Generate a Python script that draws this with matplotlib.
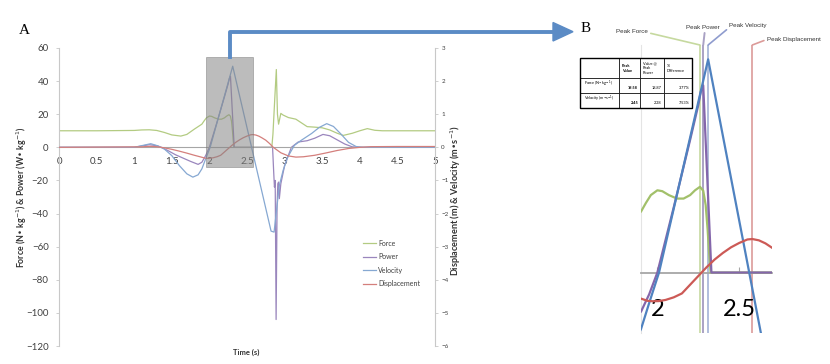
import numpy as np
import matplotlib
matplotlib.use('Agg')
import matplotlib.pyplot as plt
from matplotlib.lines import Line2D
from matplotlib.patches import Rectangle, Polygon

plt.rcParams['font.family'] = ['Lato', 'DejaVu Sans']

# ---- data ----
# force, N/kg
t_force = [0, 0.5, 1.0, 1.1, 1.2, 1.3, 1.4, 1.5, 1.62, 1.7,
           1.8, 1.9, 1.93, 1.96, 2.0, 2.03, 2.07, 2.12, 2.16, 2.2,
           2.23, 2.26, 2.28, 2.295, 2.307, 2.315, 2.325, 2.6, 2.83, 2.845,
           2.87, 2.89, 2.905, 2.92, 2.95, 2.98, 3.05, 3.15, 3.25, 3.3,
           3.4, 3.5, 3.6, 3.7, 3.78, 3.9, 4.0, 4.1, 4.2, 4.3, 5.0]
force = [10, 10, 10.2, 10.5, 10.6, 10.2, 9.0, 7.5, 6.8, 7.8,
         11.0, 14.0, 16.0, 17.8, 18.9, 18.7, 17.8, 17.0, 17.0, 17.8,
         18.9, 19.7, 18.8, 15.5, 9.8, 5.0, 0, 0, 0, 8,
         30, 47, 20, 14, 20.5, 19.5, 18, 17, 14, 12.5,
         12.2, 11.8, 10.5, 8.5, 7.2, 8.5, 10, 11.3, 10.3, 10, 10]

# power, W/kg
t_power = [0, 1.0, 1.1, 1.2, 1.3, 1.36, 1.45, 1.55, 1.65, 1.75,
           1.85, 1.9, 1.95, 2.0, 2.1, 2.2, 2.25, 2.265, 2.28, 2.33,
           2.84, 2.855, 2.865, 2.875, 2.887, 2.9, 2.91, 2.92, 2.93, 2.95,
           3.0, 3.09, 3.18, 3.3, 3.4, 3.51, 3.6, 3.7, 3.8, 3.9,
           4.0, 5.0]
power = [0, 0, 0.8, 1.6, 1.0, 0, -2, -4.5, -6.5, -8.5,
         -10.3, -9, -5, 0, 15, 30.5, 38.5, 41.5, 43, 0,
         0, -15, -24, -20, -104, -35, -22, -21, -31, -22,
         -11, 0, 3.2, 4, 5.5, 7.8, 7, 4.5, 2, 0.3,
         0, 0]

# velocity, m/s
t_vel = [0, 1.0, 1.1, 1.22, 1.32, 1.4, 1.5, 1.6, 1.7, 1.78,
         1.85, 1.9, 1.95, 2.01, 2.31, 2.82, 2.86, 2.90, 2.93, 2.98,
         3.04, 3.13, 3.22, 3.36, 3.46, 3.56, 3.65, 3.75, 3.85, 3.95,
         4.05, 5.0]
vel = [0, 0, 0.05, 0.11, 0.04, -0.05, -0.25, -0.55, -0.8, -0.9,
       -0.83, -0.65, -0.35, 0, 2.45, -2.53, -2.56, -1.75, -1.15, -0.7,
       -0.3, 0.06, 0.21, 0.42, 0.6, 0.715, 0.63, 0.4, 0.15, 0.025,
       0, 0]

# displacement, m
t_disp = [0, 1.1, 1.2, 1.3, 1.4, 1.5, 1.6, 1.7, 1.8, 1.9,
          1.94, 1.97, 2.01, 2.05, 2.1, 2.15, 2.2, 2.25, 2.3, 2.35,
          2.4, 2.45, 2.5, 2.55, 2.58, 2.62, 2.66, 2.7, 2.75, 2.8,
          2.85, 2.95, 3.05, 3.15, 3.25, 3.4, 3.55, 3.7, 3.85, 4.0,
          4.15, 4.5, 5.0]
disp = [0, 0.015, 0.03, 0.02, -0.015, -0.06, -0.115, -0.175, -0.24, -0.3,
        -0.325, -0.33, -0.328, -0.315, -0.285, -0.24, -0.14, -0.04, 0.06, 0.15,
        0.225, 0.29, 0.34, 0.38, 0.385, 0.37, 0.335, 0.285, 0.215, 0.115,
        0, -0.165, -0.26, -0.295, -0.285, -0.24, -0.17, -0.095, -0.035, 0,
        0.02, 0.025, 0.025]

series_names = ['Force', 'Power', 'Velocity', 'Displacement']

table_header = ['', 'Peak\nValue', 'Value @\nPeak\nPower', '%\nDifference']
table_rows = ['Force (N\u2022 kg$^{-1}$)', 'Velocity (m\u2022s$^{-1}$)']
table_peak = ['19.58', '2.45']
table_at_power = ['18.87', '2.28']
table_diff = ['3.77%', '7.53%']

# ---- layout helpers (image pixels, y down) ----
W, H = 830.0, 364.0
def fx(px):
    return px / W
def fy(py):
    return 1 - py / H

right_scale = 20.0          # left-axis units per right-axis unit
zoom_t = (1.96, 2.58)       # shaded window in panel A
zoom_y = (-12, 54.6)
b_xlim = (1.9, 2.70)
b_ylim = (-13.9, 52.3)

ca = {'Force': '#b3cb82', 'Power': '#9a86bd', 'Velocity': '#86a8d2', 'Displacement': '#d47f7c'}
cb = {'Force': '#a2c06a', 'Power': '#8466ab', 'Velocity': '#4f82c0', 'Displacement': '#cc5a56'}
grey_txt = '#404040'
spine_c = '#c8c8c8'

fig = plt.figure(figsize=(8.3, 3.64), dpi=100)

# ================= panel A =================
axA = fig.add_axes([fx(59), fy(346), fx(435) - fx(59), fy(48) - fy(346)])
axA2 = axA.twinx()

lf, = axA.plot(t_force, force, color=ca['Force'], lw=0.9)
lp, = axA.plot(t_power, power, color=ca['Power'], lw=0.9)
lv, = axA2.plot(t_vel, vel, color=ca['Velocity'], lw=0.9)
ld, = axA2.plot(t_disp, disp, color=ca['Displacement'], lw=0.9)

axA.set_xlim(0, 5)
axA.set_ylim(-120, 60)
axA.set_yticks(np.arange(-120, 61, 20))
axA.set_xticks(np.arange(0, 5.01, 0.5))
axA.xaxis.set_major_formatter(matplotlib.ticker.FormatStrFormatter('%g'))
axA.spines['top'].set_visible(False)
axA.spines['right'].set_visible(False)
axA.spines['bottom'].set_position(('data', 0))
axA.spines['bottom'].set_color('#a6a6a6')
axA.spines['bottom'].set_linewidth(0.8)
axA.spines['left'].set_color(spine_c)
axA.tick_params(axis='y', labelsize=7, labelcolor=grey_txt, color=spine_c, length=2.5, width=0.6, pad=5)
axA.tick_params(axis='x', labelsize=7, labelcolor=grey_txt, length=0, pad=7)

axA2.set_ylim(-120 / right_scale, 60 / right_scale)
axA2.set_yticks(np.arange(-6, 4, 1))
for s in ['top', 'left', 'bottom']:
    axA2.spines[s].set_visible(False)
axA2.spines['right'].set_color(spine_c)
axA2.tick_params(axis='y', labelsize=4.5, labelcolor=grey_txt, color=spine_c, length=2.5, width=0.6, pad=2)

# zoom window
rect = Rectangle((zoom_t[0], zoom_y[0]), zoom_t[1] - zoom_t[0], zoom_y[1] - zoom_y[0],
                 transform=axA.transData, facecolor='#858585', alpha=0.55,
                 edgecolor='#777777', lw=0.6, zorder=5)
axA2.add_patch(rect)
axA2.set_ylim(-120 / right_scale, 60 / right_scale)

fig.text(fx(22), fy(197), 'Force (N\u2022 kg$^{-1}$) & Power (W\u2022 kg$^{-1}$)',
         rotation=90, ha='center', va='center', fontsize=6.3, fontweight='bold', color='#333333')
fig.text(fx(456), fy(201), 'Displacement (m) & Velocity (m\u2022s$^{-1}$)',
         rotation=90, ha='center', va='center', fontsize=6.6, fontweight='bold', color='#333333')
fig.text(fx(246), fy(352), 'Time (s)', ha='center', va='center', fontsize=5.5,
         fontweight='bold', color='#333333')

fig.legend([lf, lp, lv, ld], series_names, loc='upper left',
           bbox_to_anchor=(fx(362.7), fy(239.5)), frameon=False, fontsize=5,
           labelcolor=grey_txt, handlelength=1.9, handletextpad=0.3,
           labelspacing=0.95, borderpad=0, borderaxespad=0)

# ================= panel B =================
axB = fig.add_axes([fx(641), fy(333), fx(772) - fx(641), fy(45) - fy(333)])
axB2 = axB.twinx()

axB.plot(t_force, force, color=cb['Force'], lw=1.6, zorder=3)
axB.plot(t_power, power, color=cb['Power'], lw=1.6, zorder=3)
axB2.plot(t_vel, vel, color=cb['Velocity'], lw=1.6)
axB2.plot(t_disp, disp, color=cb['Displacement'], lw=1.6)

axB.set_xlim(*b_xlim)
axB.set_ylim(*b_ylim)
axB2.set_ylim(b_ylim[0] / right_scale, b_ylim[1] / right_scale)
axB.patch.set_visible(False)
for s in ['top', 'right']:
    axB.spines[s].set_visible(False)
axB.spines['left'].set_color('#e4e4e4')
axB.spines['left'].set_linewidth(0.8)
axB.spines['bottom'].set_position(('data', 0))
axB.spines['bottom'].set_color('#a6a6a6')
axB.spines['bottom'].set_linewidth(1.3)
axB.set_yticks([])
axB.set_xticks([2.0, 2.5])
axB.set_xticklabels(['2', '2.5'])
axB.tick_params(axis='x', direction='in', length=4, width=0.8, color='#a6a6a6',
                labelsize=17, pad=19, labelcolor='black')
for s in axB2.spines.values():
    s.set_visible(False)
axB2.set_yticks([])


def window_peak(t, y):
    t = np.asarray(t)
    y = np.asarray(y)
    m = (t >= b_xlim[0]) & (t <= b_xlim[1])
    return t[m][np.argmax(y[m])]


pk_force = window_peak(t_force, force)
pk_power = window_peak(t_power, power)
pk_vel = window_peak(t_vel, vel)
pk_disp = window_peak(t_disp, disp)

vl = [(pk_force, '#c6d99f', 1.2), (pk_power, '#aaa2c4', 1.4),
      (pk_vel, '#a3b3d6', 1.2), (pk_disp, '#dc9b99', 1.2)]
for t0, c, w in vl:
    axB.axvline(t0, color=c, lw=w, zorder=1)

lab_kw = dict(fontsize=4.5, color='#333333', family=['Liberation Sans', 'DejaVu Sans'],
              xycoords=('data', 'axes fraction'), annotation_clip=False, va='center')
axB.annotate('Peak Force', xy=(pk_force, 1), xytext=(648, H - 31.7), textcoords='figure pixels',
             ha='right', arrowprops=dict(arrowstyle='-', color='#c6d99f', lw=1.2,
                                         shrinkA=0, shrinkB=0, relpos=(1, 0.3)), **lab_kw)
axB.annotate('Peak Power', xy=(pk_power, 1), xytext=(pk_power, H - 27.7),
             textcoords=('data', 'figure pixels'), ha='center',
             arrowprops=dict(arrowstyle='-', color='#aaa2c4', lw=1.4,
                             shrinkA=0, shrinkB=0, relpos=(0.55, 0)), **lab_kw)
axB.annotate('Peak Velocity', xy=(pk_vel, 1), xytext=(729.3, H - 26), textcoords='figure pixels',
             ha='left', arrowprops=dict(arrowstyle='-', color='#8f9cce', lw=1.2,
                                        shrinkA=0, shrinkB=0, relpos=(0, 0.2)), **lab_kw)
axB.annotate('Peak Displacement', xy=(pk_disp, 1), xytext=(766.7, H - 39), textcoords='figure pixels',
             ha='left', arrowprops=dict(arrowstyle='-', color='#dc9b99', lw=1.2,
                                        shrinkA=0, shrinkB=0, relpos=(0, 0.4)), **lab_kw)

# table
ax_tab = fig.add_axes([fx(580), fy(108.3), fx(692) - fx(580), fy(58.3) - fy(108.3)])
ax_tab.axis('off')
cells = [table_header]
for r, a, b, d in zip(table_rows, table_peak, table_at_power, table_diff):
    cells.append([r + '\n', '\n' + a, '\n' + b, '\n' + d])
tbl = ax_tab.table(cellText=cells, colWidths=[39.3, 20.7, 23.3, 28.3],
                   bbox=[0, 0, 1, 1], cellLoc='left')
tbl.auto_set_font_size(False)
tbl.set_fontsize(2.8)
row_h = [20, 15, 15]
for (r, c), cell in tbl.get_celld().items():
    cell.set_height(row_h[r])
    cell.set_linewidth(0.5)
    if r > 0 and c > 0:
        cell.get_text().set_ha('right')
        cell.get_text().set_fontweight('bold' if c == 1 else 'normal')
    if r == 0 and c == 1:
        cell.get_text().set_fontweight('bold')
ax_tab.add_patch(Rectangle((0, 0), 1, 1, transform=ax_tab.transAxes, fill=False,
                           lw=1.0, edgecolor='black', clip_on=False))

# link arrow from the zoom window to panel B
start = fig.transFigure.inverted().transform(axA.transData.transform((2.28, zoom_y[1])))
arrow_c = '#5b8bc5'
fig.add_artist(Line2D([start[0], start[0], fx(556)], [start[1], fy(31.7), fy(31.7)],
                      transform=fig.transFigure, color=arrow_c, lw=2.8,
                      solid_joinstyle='round'))
fig.add_artist(Polygon([[fx(553), fy(22.5)], [fx(573), fy(31.7)], [fx(553), fy(41)]],
                       closed=True, transform=fig.transFigure, color=arrow_c))

serif = ['Liberation Serif', 'DejaVu Serif']
fig.text(fx(18.5), fy(30), 'A', family=serif, fontsize=11, ha='left', va='center')
fig.text(fx(581), fy(28), 'B', family=serif, fontsize=11, ha='left', va='center')

fig.savefig('out.png', dpi=100)
